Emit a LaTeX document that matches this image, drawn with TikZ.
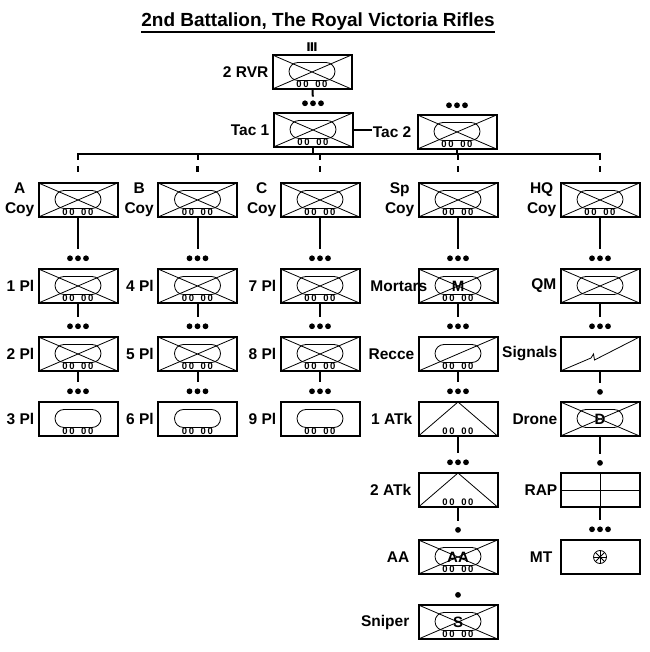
\documentclass[tikz,border=0pt]{standalone}
\usepackage{fontspec}
\setmainfont{Liberation Sans}
\newfontfamily\symbfont{DejaVu Sans}
\usepackage{tikz}
\usetikzlibrary{positioning}

\newcommand{\xlines}{\draw[fine] (path picture bounding box.north west) -- (path picture bounding box.south east) (path picture bounding box.south west) -- (path picture bounding box.north east);}
\newcommand{\armour}{\draw[fine, rounded corners=9pt] ([shift={(-23pt,-8.5pt)}]path picture bounding box.center) rectangle ([shift={(23pt,9.5pt)}]path picture bounding box.center);}
\newcommand{\wheels}{\node[inner sep=0pt, anchor=base, font=\bfseries\fontsize{9.5}{9.5}\selectfont] at ([yshift=1pt]path picture bounding box.south) {0\kern1.7pt0\kern6.5pt0\kern1.7pt0};}

\tikzstyle{fine} = [line width=0.8pt]
\tikzstyle{unit} = [rectangle, draw=black, line width=2pt, minimum width=79pt, minimum height=34pt, inner sep=0pt, font=\bfseries\fontsize{15}{15}\selectfont]
\tikzstyle{armdinf} = [unit, path picture={\xlines\armour\wheels}]
\tikzstyle{armd} = [unit, path picture={\armour\wheels}]
\tikzstyle{hqunit} = [unit, path picture={\xlines\armour}]
\tikzstyle{recce} = [unit, path picture={\draw[fine] (path picture bounding box.south west) -- (path picture bounding box.north east); \armour\wheels}]
\tikzstyle{atk} = [unit, path picture={\draw[fine] (path picture bounding box.south west) -- (path picture bounding box.north) -- (path picture bounding box.south east); \wheels}]
\tikzstyle{sigs} = [unit, path picture={\draw[fine] (path picture bounding box.south west) -- ([shift={(-9pt,-4pt)}]path picture bounding box.center) -- ([shift={(-6.5pt,0pt)}]path picture bounding box.center) -- ([shift={(-5.5pt,-6pt)}]path picture bounding box.center) -- (path picture bounding box.north east);}]
\tikzstyle{med} = [unit, path picture={\draw[fine] (path picture bounding box.west) -- (path picture bounding box.east) (path picture bounding box.north) -- (path picture bounding box.south);}]
\tikzstyle{trans} = [unit, path picture={\draw[fine] (path picture bounding box.center) circle (6.5pt); \foreach \a in {0,45,90,135} \draw[fine] ([shift={(\a:6.5pt)}]path picture bounding box.center) -- ([shift={(\a+180:6.5pt)}]path picture bounding box.center);}]
\tikzstyle{lbl} = [inner sep=0pt, align=center, font=\bfseries\fontsize{15.5}{20}\selectfont]
\tikzstyle{pltmark} = [minimum width=23pt, minimum height=7pt, inner sep=0pt, path picture={\foreach \d in {-8,0,8} \fill ([xshift=\d pt]path picture bounding box.center) circle (2.9pt);}]
\tikzstyle{secmark} = [circle, fill=black, minimum size=5.8pt, inner sep=0pt]
\tikzstyle{coymark} = [rectangle, fill=black, minimum width=2.5pt, minimum height=6pt, inner sep=0pt]
\tikzstyle{link} = [line width=2pt]

\begin{document}
\begin{tikzpicture}[x=1pt, y=1pt, node distance=68pt]
        \useasboundingbox (0,0) rectangle (649,652);
        \node (title) [inner sep=0pt, anchor=base, font=\bfseries\fontsize{19}{19}\selectfont] at (318,625) {2nd Battalion, The Royal Victoria Rifles};
        \draw [line width=1.7pt] ([yshift=-5pt]title.base west) -- ([yshift=-5pt]title.base east);

        % battalion and tac
        \node (bn) [armdinf] at (312,580) {};
        \node (bnsym) [above=2pt of bn, inner sep=0pt, font=\symbfont\bfseries\fontsize{12}{12}\selectfont] {Ⅲ};
        \node (bnlbl) [lbl, left=3pt of bn] {2 RVR};
        \node (tac1) [armdinf] at (313,522) {};
        \node (tac1dots) [pltmark, above=5pt of tac1] {};
        \node (tac1lbl) [lbl, left=3pt of tac1] {Tac 1};
        \node (tac2) [armdinf] at (457,520) {};
        \node (tac2dots) [pltmark, above=5pt of tac2] {};
        \node (tac2lbl) [lbl, left=5pt of tac2] {Tac 2};

        % companies
        \node (acoy) [armdinf] at (78,452) {};
        \node (bcoy) [armdinf] at (197.5,452) {};
        \node (ccoy) [armdinf] at (320,452) {};
        \node (spcoy) [armdinf] at (458,452) {};
        \node (hqcoy) [armdinf] at (600,452) {};
        \node (amark) [coymark, above=10pt of acoy] {};
        \node (bmark) [coymark, above=10pt of bcoy] {};
        \node (cmark) [coymark, above=10pt of ccoy] {};
        \node (spmark) [coymark, above=10pt of spcoy] {};
        \node (hqmark) [coymark, above=10pt of hqcoy] {};
        \node (acoylbl) [lbl, left=3pt of acoy] {A\\Coy};
        \node (bcoylbl) [lbl, left=3pt of bcoy] {B\\Coy};
        \node (ccoylbl) [lbl, left=3pt of ccoy] {C\\Coy};
        \node (spcoylbl) [lbl, left=3pt of spcoy] {Sp\\Coy};
        \node (hqcoylbl) [lbl, left=3pt of hqcoy] {HQ\\Coy};
        \coordinate (abar) at (78,498);
        \coordinate (bbar) at (bcoy |- abar);
        \coordinate (cbar) at (ccoy |- abar);
        \coordinate (spbar) at (spcoy |- abar);
        \coordinate (hqbar) at (hqcoy |- abar);

        % A, B, C platoons
        \node (p1) [armdinf, below of=acoy, yshift=-18pt] {};
        \node (p2) [armdinf, below of=p1] {};
        \node (p3) [armd, below of=p2, yshift=3pt] {};
        \node (p4) [armdinf, below of=bcoy, yshift=-18pt] {};
        \node (p5) [armdinf, below of=p4] {};
        \node (p6) [armd, below of=p5, yshift=3pt] {};
        \node (p7) [armdinf, below of=ccoy, yshift=-18pt] {};
        \node (p8) [armdinf, below of=p7] {};
        \node (p9) [armd, below of=p8, yshift=3pt] {};
        \node (p1dots) [pltmark, above=6pt of p1] {};
        \node (p2dots) [pltmark, above=6pt of p2] {};
        \node (p3dots) [pltmark, above=6pt of p3] {};
        \node (p4dots) [pltmark, above=6pt of p4] {};
        \node (p5dots) [pltmark, above=6pt of p5] {};
        \node (p6dots) [pltmark, above=6pt of p6] {};
        \node (p7dots) [pltmark, above=6pt of p7] {};
        \node (p8dots) [pltmark, above=6pt of p8] {};
        \node (p9dots) [pltmark, above=6pt of p9] {};
        \node (p1lbl) [lbl, left=3pt of p1] {1 Pl};
        \node (p2lbl) [lbl, left=3pt of p2] {2 Pl};
        \node (p3lbl) [lbl, left=3pt of p3] {3 Pl};
        \node (p4lbl) [lbl, left=3pt of p4] {4 Pl};
        \node (p5lbl) [lbl, left=3pt of p5] {5 Pl};
        \node (p6lbl) [lbl, left=3pt of p6] {6 Pl};
        \node (p7lbl) [lbl, left=3pt of p7] {7 Pl};
        \node (p8lbl) [lbl, left=3pt of p8] {8 Pl};
        \node (p9lbl) [lbl, left=3pt of p9] {9 Pl};

        % support company
        \node (mortars) [armdinf, below of=spcoy, yshift=-18pt] {M};
        \node (recce) [recce, below of=mortars] {};
        \node (atk1) [atk, below of=recce, yshift=3pt] {};
        \node (atk2) [atk, below of=atk1, yshift=-3pt] {};
        \node (aa) [armdinf, below of=atk2, yshift=1pt] {AA};
        \node (sniper) [armdinf, below of=aa, yshift=3pt] {S};
        \node (mortarsdots) [pltmark, above=6pt of mortars] {};
        \node (reccedots) [pltmark, above=6pt of recce] {};
        \node (atk1dots) [pltmark, above=6pt of atk1] {};
        \node (atk2dots) [pltmark, above=6pt of atk2] {};
        \node (aadot) [secmark, above=6pt of aa] {};
        \node (sniperdot) [secmark, above=6pt of sniper] {};
        \node (mortarslbl) [lbl, left=-10pt of mortars] {Mortars};
        \node (reccelbl) [lbl, left=3pt of recce] {Recce};
        \node (atk1lbl) [lbl, left=5pt of atk1] {1 ATk};
        \node (atk2lbl) [lbl, left=6pt of atk2] {2 ATk};
        \node (aalbl) [lbl, left=8pt of aa] {AA};
        \node (sniperlbl) [lbl, left=8pt of sniper] {Sniper};

        % hq company
        \node (qm) [hqunit, below of=hqcoy, yshift=-18pt] {};
        \node (sigs) [sigs, below of=qm] {};
        \node (drone) [hqunit, below of=sigs, yshift=3pt] {D};
        \node (rap) [med, below of=drone, yshift=-3pt] {};
        \node (mt) [trans, below of=rap, yshift=1pt] {};
        \node (qmdots) [pltmark, above=6pt of qm] {};
        \node (sigsdots) [pltmark, above=6pt of sigs] {};
        \node (dronedot) [secmark, above=6pt of drone] {};
        \node (rapdot) [secmark, above=6pt of rap] {};
        \node (mtdots) [pltmark, above=6pt of mt] {};
        \node (qmlbl) [lbl, left=3pt of qm] {QM};
        \node (sigslbl) [lbl, left=2pt of sigs] {Signals};
        \node (dronelbl) [lbl, left=2pt of drone] {Drone};
        \node (raplbl) [lbl, left=2pt of rap] {RAP};
        \node (mtlbl) [lbl, left=7pt of mt] {MT};

        % connectors
        \draw [link, shorten >=3pt] (bn) -- (tac1dots);
        \draw [link, shorten >=1pt] (tac1.east) -- (tac1.east -| tac2lbl.west);
        \draw [link] (tac1) -- (tac1 |- abar);
        \draw [link] (tac2) -- (tac2 |- abar);
        \draw [link, shorten <=6pt, shorten >=6pt] (amark) -- (abar) -- (hqbar) -- (hqmark);
        \draw [link, shorten >=6pt] (bbar) -- (bmark);
        \draw [link, shorten >=6pt] (cbar) -- (cmark);
        \draw [link, shorten >=6pt] (spbar) -- (spmark);
        \draw [link, shorten >=6pt] (acoy) -- (p1dots);
        \draw [link, shorten >=6pt] (p1) -- (p2dots);
        \draw [link, shorten >=6pt] (p2) -- (p3dots);
        \draw [link, shorten >=6pt] (bcoy) -- (p4dots);
        \draw [link, shorten >=6pt] (p4) -- (p5dots);
        \draw [link, shorten >=6pt] (p5) -- (p6dots);
        \draw [link, shorten >=6pt] (ccoy) -- (p7dots);
        \draw [link, shorten >=6pt] (p7) -- (p8dots);
        \draw [link, shorten >=6pt] (p8) -- (p9dots);
        \draw [link, shorten >=6pt] (spcoy) -- (mortarsdots);
        \draw [link, shorten >=6pt] (mortars) -- (reccedots);
        \draw [link, shorten >=6pt] (recce) -- (atk1dots);
        \draw [link, shorten >=6pt] (atk1) -- (atk2dots);
        \draw [link, shorten >=6pt] (atk2) -- (aadot);
        \draw [link, shorten >=6pt] (hqcoy) -- (qmdots);
        \draw [link, shorten >=6pt] (qm) -- (sigsdots);
        \draw [link, shorten >=6pt] (sigs) -- (dronedot);
        \draw [link, shorten >=6pt] (drone) -- (rapdot);
        \draw [link, shorten >=6pt] (rap) -- (mtdots);
    \end{tikzpicture}
\end{document}
